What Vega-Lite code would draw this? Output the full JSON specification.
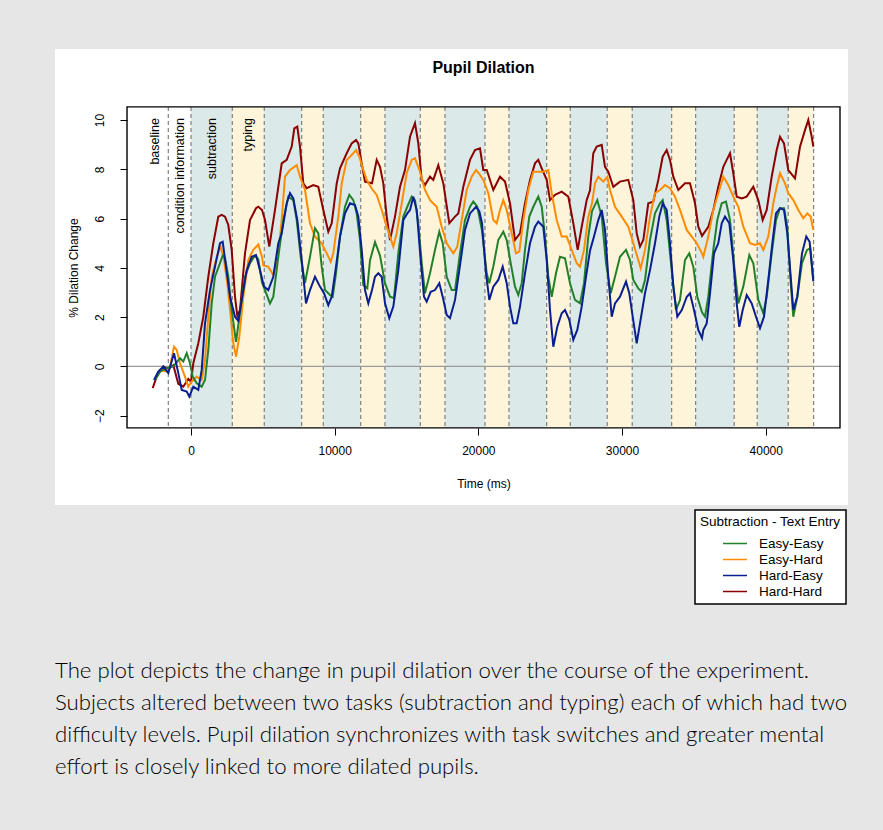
{
  "$schema": "https://vega.github.io/schema/vega-lite/v6.json",
  "width": 793,
  "height": 456,
  "autosize": {"type": "none"},
  "padding": {"left": 55, "top": 49, "right": 35, "bottom": 325},
  "background": "#e6e6e6",
  "view": {"fill": "white", "stroke": null},
  "title": {
    "text": [
      "The plot depicts the change in pupil dilation over the course of the experiment.",
      "Subjects altered between two tasks (subtraction and typing) each of which had two",
      "difficulty levels. Pupil dilation synchronizes with task switches and greater mental",
      "effort is closely linked to more dilated pupils."
    ],
    "orient": "bottom",
    "anchor": "start",
    "frame": "group",
    "offset": 55,
    "font": "Lato",
    "fontSize": 22.2,
    "fontWeight": 300,
    "lineHeight": 32.2,
    "color": "#000000"
  },
  "config": {
    "font": "Liberation Sans",
    "axis": {
      "domain": false,
      "grid": false,
      "tickColor": "black",
      "tickSize": 7,
      "tickWidth": 1,
      "labelColor": "black",
      "labelFont": "Liberation Sans",
      "labelFontSize": 12,
      "titleFont": "Liberation Sans",
      "titleFontSize": 12,
      "titleFontWeight": "normal",
      "titleColor": "black"
    },
    "legend": {"strokeWidth": 1.5}
  },
  "datasets": {
    "bands": [
      {"phase": "subtraction", "start": 0, "end": 2874},
      {"phase": "typing", "start": 2874, "end": 5100},
      {"phase": "subtraction", "start": 5100, "end": 7704},
      {"phase": "typing", "start": 7704, "end": 9207},
      {"phase": "subtraction", "start": 9207, "end": 11810},
      {"phase": "typing", "start": 11810, "end": 13500},
      {"phase": "subtraction", "start": 13500, "end": 15957},
      {"phase": "typing", "start": 15957, "end": 17676},
      {"phase": "subtraction", "start": 17676, "end": 20459},
      {"phase": "typing", "start": 20459, "end": 22129},
      {"phase": "subtraction", "start": 22129, "end": 24753},
      {"phase": "typing", "start": 24753, "end": 26395},
      {"phase": "subtraction", "start": 26395, "end": 28970},
      {"phase": "typing", "start": 28970, "end": 30710},
      {"phase": "subtraction", "start": 30710, "end": 33452},
      {"phase": "typing", "start": 33452, "end": 35122},
      {"phase": "subtraction", "start": 35122, "end": 37808},
      {"phase": "typing", "start": 37808, "end": 39409},
      {"phase": "subtraction", "start": 39409, "end": 41566},
      {"phase": "typing", "start": 41566, "end": 43333}
    ],
    "bounds": [
      {"t": -1580}, {"t": 0}, {"t": 2874}, {"t": 5100}, {"t": 7704}, {"t": 9207}, {"t": 11810}, {"t": 13500},
      {"t": 15957}, {"t": 17676}, {"t": 20459}, {"t": 22129}, {"t": 24753}, {"t": 26395}, {"t": 28970},
      {"t": 30710}, {"t": 33452}, {"t": 35122}, {"t": 37808}, {"t": 39409}, {"t": 41566}, {"t": 43333}
    ],
    "labels": [
      {"label": "baseline", "t": -2506},
      {"label": "condition information", "t": -766},
      {"label": "subtraction", "t": 1440},
      {"label": "typing", "t": 3990}
    ],
    "lines": [
      {"s":"Hard-Hard","t":-2667,"v":-0.88},{"s":"Hard-Hard","t":-2387,"v":-0.41},{"s":"Hard-Hard","t":-1928,"v":0.0},{"s":"Hard-Hard","t":-1580,"v":-0.1},{"s":"Hard-Hard","t":-1232,"v":0.05},{"s":"Hard-Hard","t":-884,"v":-0.7},{"s":"Hard-Hard","t":-536,"v":-0.82},{"s":"Hard-Hard","t":-188,"v":-0.5},{"s":"Hard-Hard","t":0,"v":-0.62},{"s":"Hard-Hard","t":160,"v":0.13},{"s":"Hard-Hard","t":508,"v":0.94},{"s":"Hard-Hard","t":856,"v":2.02},{"s":"Hard-Hard","t":1204,"v":3.64},{"s":"Hard-Hard","t":1552,"v":5.0},{"s":"Hard-Hard","t":1900,"v":6.08},{"s":"Hard-Hard","t":2137,"v":6.15},{"s":"Hard-Hard","t":2366,"v":6.08},{"s":"Hard-Hard","t":2596,"v":5.74},{"s":"Hard-Hard","t":2833,"v":4.73},{"s":"Hard-Hard","t":3062,"v":2.83},{"s":"Hard-Hard","t":3222,"v":2.05},{"s":"Hard-Hard","t":3410,"v":2.29},{"s":"Hard-Hard","t":3758,"v":4.59},{"s":"Hard-Hard","t":4106,"v":5.94},{"s":"Hard-Hard","t":4524,"v":6.42},{"s":"Hard-Hard","t":4684,"v":6.48},{"s":"Hard-Hard","t":4942,"v":6.35},{"s":"Hard-Hard","t":5150,"v":5.94},{"s":"Hard-Hard","t":5450,"v":4.86},{"s":"Hard-Hard","t":5846,"v":6.35},{"s":"Hard-Hard","t":6313,"v":8.24},{"s":"Hard-Hard","t":6661,"v":8.38},{"s":"Hard-Hard","t":7009,"v":8.92},{"s":"Hard-Hard","t":7190,"v":9.66},{"s":"Hard-Hard","t":7398,"v":9.73},{"s":"Hard-Hard","t":7586,"v":8.92},{"s":"Hard-Hard","t":7816,"v":7.43},{"s":"Hard-Hard","t":8053,"v":7.23},{"s":"Hard-Hard","t":8512,"v":7.36},{"s":"Hard-Hard","t":8860,"v":7.29},{"s":"Hard-Hard","t":9208,"v":6.35},{"s":"Hard-Hard","t":9556,"v":5.47},{"s":"Hard-Hard","t":9793,"v":5.81},{"s":"Hard-Hard","t":10141,"v":7.43},{"s":"Hard-Hard","t":10370,"v":8.04},{"s":"Hard-Hard","t":10837,"v":8.65},{"s":"Hard-Hard","t":11185,"v":9.05},{"s":"Hard-Hard","t":11484,"v":9.19},{"s":"Hard-Hard","t":11644,"v":9.05},{"s":"Hard-Hard","t":11881,"v":8.24},{"s":"Hard-Hard","t":12110,"v":7.5},{"s":"Hard-Hard","t":12598,"v":7.43},{"s":"Hard-Hard","t":12925,"v":8.38},{"s":"Hard-Hard","t":13154,"v":8.1},{"s":"Hard-Hard","t":13384,"v":7.43},{"s":"Hard-Hard","t":13621,"v":6.08},{"s":"Hard-Hard","t":13850,"v":5.13},{"s":"Hard-Hard","t":14198,"v":6.08},{"s":"Hard-Hard","t":14546,"v":7.29},{"s":"Hard-Hard","t":14894,"v":7.97},{"s":"Hard-Hard","t":15242,"v":9.32},{"s":"Hard-Hard","t":15590,"v":9.87},{"s":"Hard-Hard","t":15820,"v":9.05},{"s":"Hard-Hard","t":16057,"v":7.57},{"s":"Hard-Hard","t":16286,"v":7.36},{"s":"Hard-Hard","t":16634,"v":7.7},{"s":"Hard-Hard","t":16864,"v":7.57},{"s":"Hard-Hard","t":17212,"v":8.17},{"s":"Hard-Hard","t":17560,"v":7.43},{"s":"Hard-Hard","t":17978,"v":5.81},{"s":"Hard-Hard","t":18374,"v":6.08},{"s":"Hard-Hard","t":18604,"v":6.21},{"s":"Hard-Hard","t":18952,"v":7.29},{"s":"Hard-Hard","t":19418,"v":8.38},{"s":"Hard-Hard","t":19766,"v":8.78},{"s":"Hard-Hard","t":20114,"v":8.85},{"s":"Hard-Hard","t":20344,"v":7.97},{"s":"Hard-Hard","t":20581,"v":7.97},{"s":"Hard-Hard","t":21040,"v":7.16},{"s":"Hard-Hard","t":21506,"v":7.7},{"s":"Hard-Hard","t":21854,"v":7.5},{"s":"Hard-Hard","t":22202,"v":6.62},{"s":"Hard-Hard","t":22550,"v":5.13},{"s":"Hard-Hard","t":22898,"v":5.4},{"s":"Hard-Hard","t":23246,"v":6.62},{"s":"Hard-Hard","t":23594,"v":7.57},{"s":"Hard-Hard","t":23942,"v":8.24},{"s":"Hard-Hard","t":24172,"v":8.38},{"s":"Hard-Hard","t":24409,"v":8.04},{"s":"Hard-Hard","t":24757,"v":7.57},{"s":"Hard-Hard","t":24986,"v":6.75},{"s":"Hard-Hard","t":25334,"v":6.96},{"s":"Hard-Hard","t":25801,"v":7.09},{"s":"Hard-Hard","t":26260,"v":6.89},{"s":"Hard-Hard","t":26608,"v":5.81},{"s":"Hard-Hard","t":26914,"v":4.73},{"s":"Hard-Hard","t":27193,"v":5.67},{"s":"Hard-Hard","t":27541,"v":6.75},{"s":"Hard-Hard","t":27770,"v":7.15},{"s":"Hard-Hard","t":28000,"v":8.65},{"s":"Hard-Hard","t":28237,"v":8.92},{"s":"Hard-Hard","t":28585,"v":8.99},{"s":"Hard-Hard","t":28814,"v":8.1},{"s":"Hard-Hard","t":29044,"v":7.9},{"s":"Hard-Hard","t":29392,"v":7.29},{"s":"Hard-Hard","t":29858,"v":7.5},{"s":"Hard-Hard","t":30436,"v":7.57},{"s":"Hard-Hard","t":30784,"v":6.75},{"s":"Hard-Hard","t":31021,"v":5.4},{"s":"Hard-Hard","t":31250,"v":4.86},{"s":"Hard-Hard","t":31480,"v":5.13},{"s":"Hard-Hard","t":31828,"v":6.62},{"s":"Hard-Hard","t":32176,"v":6.69},{"s":"Hard-Hard","t":32524,"v":7.57},{"s":"Hard-Hard","t":32830,"v":8.51},{"s":"Hard-Hard","t":33108,"v":8.78},{"s":"Hard-Hard","t":33338,"v":8.38},{"s":"Hard-Hard","t":33568,"v":7.7},{"s":"Hard-Hard","t":33916,"v":7.16},{"s":"Hard-Hard","t":34382,"v":7.43},{"s":"Hard-Hard","t":34730,"v":7.43},{"s":"Hard-Hard","t":35078,"v":6.62},{"s":"Hard-Hard","t":35308,"v":5.67},{"s":"Hard-Hard","t":35566,"v":5.3},{"s":"Hard-Hard","t":36004,"v":5.67},{"s":"Hard-Hard","t":36352,"v":6.35},{"s":"Hard-Hard","t":36700,"v":7.29},{"s":"Hard-Hard","t":37048,"v":8.1},{"s":"Hard-Hard","t":37285,"v":8.38},{"s":"Hard-Hard","t":37514,"v":8.65},{"s":"Hard-Hard","t":37744,"v":7.84},{"s":"Hard-Hard","t":37980,"v":6.89},{"s":"Hard-Hard","t":38329,"v":6.82},{"s":"Hard-Hard","t":38677,"v":6.89},{"s":"Hard-Hard","t":39136,"v":7.29},{"s":"Hard-Hard","t":39484,"v":6.75},{"s":"Hard-Hard","t":39790,"v":5.94},{"s":"Hard-Hard","t":40069,"v":6.35},{"s":"Hard-Hard","t":40417,"v":7.7},{"s":"Hard-Hard","t":40765,"v":8.78},{"s":"Hard-Hard","t":40994,"v":9.32},{"s":"Hard-Hard","t":41273,"v":9.05},{"s":"Hard-Hard","t":41572,"v":7.97},{"s":"Hard-Hard","t":42038,"v":7.63},{"s":"Hard-Hard","t":42386,"v":8.92},{"s":"Hard-Hard","t":42734,"v":9.59},{"s":"Hard-Hard","t":42964,"v":10.0},{"s":"Hard-Hard","t":43201,"v":9.32},{"s":"Hard-Hard","t":43312,"v":8.92},

      {"s":"Easy-Hard","t":-2506,"v":-0.48},{"s":"Easy-Hard","t":-2158,"v":-0.14},{"s":"Easy-Hard","t":-1691,"v":-0.21},{"s":"Easy-Hard","t":-1462,"v":0.0},{"s":"Easy-Hard","t":-1183,"v":0.8},{"s":"Easy-Hard","t":-995,"v":0.67},{"s":"Easy-Hard","t":-766,"v":0.13},{"s":"Easy-Hard","t":-418,"v":-0.41},{"s":"Easy-Hard","t":-188,"v":-0.82},{"s":"Easy-Hard","t":49,"v":-0.62},{"s":"Easy-Hard","t":397,"v":-0.41},{"s":"Easy-Hard","t":745,"v":-0.55},{"s":"Easy-Hard","t":974,"v":0.26},{"s":"Easy-Hard","t":1204,"v":2.02},{"s":"Easy-Hard","t":1441,"v":3.64},{"s":"Easy-Hard","t":1789,"v":4.45},{"s":"Easy-Hard","t":2067,"v":4.86},{"s":"Easy-Hard","t":2297,"v":4.32},{"s":"Easy-Hard","t":2526,"v":3.38},{"s":"Easy-Hard","t":2763,"v":2.02},{"s":"Easy-Hard","t":2944,"v":0.94},{"s":"Easy-Hard","t":3132,"v":0.4},{"s":"Easy-Hard","t":3362,"v":1.21},{"s":"Easy-Hard","t":3640,"v":2.83},{"s":"Easy-Hard","t":3988,"v":4.32},{"s":"Easy-Hard","t":4336,"v":4.73},{"s":"Easy-Hard","t":4684,"v":4.95},{"s":"Easy-Hard","t":4942,"v":4.45},{"s":"Easy-Hard","t":5032,"v":4.1},{"s":"Easy-Hard","t":5380,"v":4.05},{"s":"Easy-Hard","t":5728,"v":3.71},{"s":"Easy-Hard","t":6076,"v":4.59},{"s":"Easy-Hard","t":6313,"v":5.94},{"s":"Easy-Hard","t":6542,"v":7.7},{"s":"Easy-Hard","t":6890,"v":7.97},{"s":"Easy-Hard","t":7357,"v":8.17},{"s":"Easy-Hard","t":7586,"v":7.7},{"s":"Easy-Hard","t":7934,"v":7.16},{"s":"Easy-Hard","t":8282,"v":5.81},{"s":"Easy-Hard","t":8630,"v":5.27},{"s":"Easy-Hard","t":9097,"v":5.0},{"s":"Easy-Hard","t":9445,"v":4.59},{"s":"Easy-Hard","t":9723,"v":4.25},{"s":"Easy-Hard","t":9904,"v":4.59},{"s":"Easy-Hard","t":10252,"v":6.08},{"s":"Easy-Hard","t":10490,"v":7.43},{"s":"Easy-Hard","t":10837,"v":8.38},{"s":"Easy-Hard","t":11185,"v":8.58},{"s":"Easy-Hard","t":11484,"v":8.78},{"s":"Easy-Hard","t":11714,"v":8.51},{"s":"Easy-Hard","t":11992,"v":7.97},{"s":"Easy-Hard","t":12229,"v":7.57},{"s":"Easy-Hard","t":12598,"v":7.2},{"s":"Easy-Hard","t":12925,"v":6.96},{"s":"Easy-Hard","t":13273,"v":6.35},{"s":"Easy-Hard","t":13621,"v":5.67},{"s":"Easy-Hard","t":13850,"v":5.27},{"s":"Easy-Hard","t":14080,"v":4.86},{"s":"Easy-Hard","t":14317,"v":5.4},{"s":"Easy-Hard","t":14665,"v":6.62},{"s":"Easy-Hard","t":15013,"v":7.84},{"s":"Easy-Hard","t":15361,"v":8.38},{"s":"Easy-Hard","t":15590,"v":8.45},{"s":"Easy-Hard","t":15938,"v":7.9},{"s":"Easy-Hard","t":16286,"v":7.16},{"s":"Easy-Hard","t":16634,"v":6.75},{"s":"Easy-Hard","t":17101,"v":6.48},{"s":"Easy-Hard","t":17449,"v":5.67},{"s":"Easy-Hard","t":17797,"v":5.0},{"s":"Easy-Hard","t":18256,"v":4.59},{"s":"Easy-Hard","t":18534,"v":4.86},{"s":"Easy-Hard","t":18840,"v":5.94},{"s":"Easy-Hard","t":19188,"v":7.16},{"s":"Easy-Hard","t":19536,"v":7.7},{"s":"Easy-Hard","t":19836,"v":7.97},{"s":"Easy-Hard","t":20114,"v":7.77},{"s":"Easy-Hard","t":20344,"v":7.57},{"s":"Easy-Hard","t":20692,"v":7.03},{"s":"Easy-Hard","t":21040,"v":5.94},{"s":"Easy-Hard","t":21277,"v":5.81},{"s":"Easy-Hard","t":21506,"v":6.35},{"s":"Easy-Hard","t":21736,"v":6.75},{"s":"Easy-Hard","t":21973,"v":6.35},{"s":"Easy-Hard","t":22321,"v":5.4},{"s":"Easy-Hard","t":22620,"v":4.59},{"s":"Easy-Hard","t":22850,"v":4.66},{"s":"Easy-Hard","t":23128,"v":5.94},{"s":"Easy-Hard","t":23476,"v":7.16},{"s":"Easy-Hard","t":23824,"v":7.9},{"s":"Easy-Hard","t":24172,"v":7.9},{"s":"Easy-Hard","t":24520,"v":7.9},{"s":"Easy-Hard","t":24868,"v":7.97},{"s":"Easy-Hard","t":25105,"v":7.03},{"s":"Easy-Hard","t":25453,"v":5.94},{"s":"Easy-Hard","t":25801,"v":5.27},{"s":"Easy-Hard","t":26149,"v":5.27},{"s":"Easy-Hard","t":26497,"v":4.73},{"s":"Easy-Hard","t":26845,"v":4.19},{"s":"Easy-Hard","t":27074,"v":4.05},{"s":"Easy-Hard","t":27353,"v":4.73},{"s":"Easy-Hard","t":27652,"v":6.08},{"s":"Easy-Hard","t":27910,"v":6.62},{"s":"Easy-Hard","t":28118,"v":7.43},{"s":"Easy-Hard","t":28348,"v":7.7},{"s":"Easy-Hard","t":28696,"v":7.5},{"s":"Easy-Hard","t":28974,"v":7.7},{"s":"Easy-Hard","t":29162,"v":7.16},{"s":"Easy-Hard","t":29510,"v":6.48},{"s":"Easy-Hard","t":29976,"v":6.08},{"s":"Easy-Hard","t":30436,"v":5.67},{"s":"Easy-Hard","t":30784,"v":5.0},{"s":"Easy-Hard","t":31132,"v":4.32},{"s":"Easy-Hard","t":31299,"v":3.98},{"s":"Easy-Hard","t":31598,"v":4.73},{"s":"Easy-Hard","t":31946,"v":6.08},{"s":"Easy-Hard","t":32294,"v":7.03},{"s":"Easy-Hard","t":32642,"v":7.16},{"s":"Easy-Hard","t":32990,"v":7.36},{"s":"Easy-Hard","t":33338,"v":7.23},{"s":"Easy-Hard","t":33686,"v":6.89},{"s":"Easy-Hard","t":34034,"v":6.35},{"s":"Easy-Hard","t":34500,"v":5.54},{"s":"Easy-Hard","t":34849,"v":5.27},{"s":"Easy-Hard","t":35197,"v":5.0},{"s":"Easy-Hard","t":35566,"v":4.59},{"s":"Easy-Hard","t":35656,"v":4.45},{"s":"Easy-Hard","t":36004,"v":5.27},{"s":"Easy-Hard","t":36352,"v":6.35},{"s":"Easy-Hard","t":36700,"v":7.03},{"s":"Easy-Hard","t":37048,"v":7.7},{"s":"Easy-Hard","t":37396,"v":7.36},{"s":"Easy-Hard","t":37744,"v":6.89},{"s":"Easy-Hard","t":38092,"v":6.48},{"s":"Easy-Hard","t":38440,"v":5.67},{"s":"Easy-Hard","t":38906,"v":5.0},{"s":"Easy-Hard","t":39254,"v":4.93},{"s":"Easy-Hard","t":39602,"v":5.0},{"s":"Easy-Hard","t":39832,"v":4.73},{"s":"Easy-Hard","t":40180,"v":5.27},{"s":"Easy-Hard","t":40528,"v":6.62},{"s":"Easy-Hard","t":40765,"v":7.29},{"s":"Easy-Hard","t":40994,"v":7.84},{"s":"Easy-Hard","t":41342,"v":7.43},{"s":"Easy-Hard","t":41572,"v":7.03},{"s":"Easy-Hard","t":41920,"v":6.75},{"s":"Easy-Hard","t":42268,"v":6.35},{"s":"Easy-Hard","t":42616,"v":6.01},{"s":"Easy-Hard","t":42894,"v":6.21},{"s":"Easy-Hard","t":43131,"v":6.08},{"s":"Easy-Hard","t":43312,"v":5.54},

      {"s":"Easy-Easy","t":-2506,"v":-0.55},{"s":"Easy-Easy","t":-2158,"v":-0.21},{"s":"Easy-Easy","t":-1691,"v":-0.07},{"s":"Easy-Easy","t":-1232,"v":0.0},{"s":"Easy-Easy","t":-766,"v":0.33},{"s":"Easy-Easy","t":-536,"v":0.2},{"s":"Easy-Easy","t":-299,"v":0.54},{"s":"Easy-Easy","t":-70,"v":0.13},{"s":"Easy-Easy","t":118,"v":-0.41},{"s":"Easy-Easy","t":397,"v":-0.68},{"s":"Easy-Easy","t":745,"v":-0.82},{"s":"Easy-Easy","t":974,"v":-0.55},{"s":"Easy-Easy","t":1204,"v":0.67},{"s":"Easy-Easy","t":1441,"v":2.56},{"s":"Easy-Easy","t":1670,"v":3.64},{"s":"Easy-Easy","t":2018,"v":4.19},{"s":"Easy-Easy","t":2206,"v":4.5},{"s":"Easy-Easy","t":2366,"v":4.4},{"s":"Easy-Easy","t":2596,"v":3.64},{"s":"Easy-Easy","t":2833,"v":2.29},{"s":"Easy-Easy","t":3132,"v":1.0},{"s":"Easy-Easy","t":3410,"v":2.2},{"s":"Easy-Easy","t":3758,"v":3.64},{"s":"Easy-Easy","t":4106,"v":4.19},{"s":"Easy-Easy","t":4454,"v":4.5},{"s":"Easy-Easy","t":4684,"v":4.35},{"s":"Easy-Easy","t":4942,"v":3.4},{"s":"Easy-Easy","t":5150,"v":3.1},{"s":"Easy-Easy","t":5498,"v":2.56},{"s":"Easy-Easy","t":5728,"v":2.83},{"s":"Easy-Easy","t":6076,"v":4.45},{"s":"Easy-Easy","t":6424,"v":5.94},{"s":"Easy-Easy","t":6772,"v":6.89},{"s":"Easy-Easy","t":7120,"v":6.75},{"s":"Easy-Easy","t":7357,"v":5.94},{"s":"Easy-Easy","t":7635,"v":4.45},{"s":"Easy-Easy","t":7934,"v":3.38},{"s":"Easy-Easy","t":8282,"v":4.45},{"s":"Easy-Easy","t":8630,"v":5.61},{"s":"Easy-Easy","t":8860,"v":5.4},{"s":"Easy-Easy","t":9097,"v":4.05},{"s":"Easy-Easy","t":9326,"v":3.1},{"s":"Easy-Easy","t":9674,"v":2.9},{"s":"Easy-Easy","t":9862,"v":2.83},{"s":"Easy-Easy","t":10092,"v":3.78},{"s":"Easy-Easy","t":10370,"v":5.27},{"s":"Easy-Easy","t":10718,"v":6.48},{"s":"Easy-Easy","t":11017,"v":6.96},{"s":"Easy-Easy","t":11296,"v":6.75},{"s":"Easy-Easy","t":11532,"v":6.21},{"s":"Easy-Easy","t":11762,"v":5.13},{"s":"Easy-Easy","t":11992,"v":3.3},{"s":"Easy-Easy","t":12271,"v":3.17},{"s":"Easy-Easy","t":12458,"v":4.3},{"s":"Easy-Easy","t":12806,"v":5.05},{"s":"Easy-Easy","t":13154,"v":4.5},{"s":"Easy-Easy","t":13502,"v":3.38},{"s":"Easy-Easy","t":13850,"v":2.83},{"s":"Easy-Easy","t":14128,"v":2.77},{"s":"Easy-Easy","t":14428,"v":4.59},{"s":"Easy-Easy","t":14776,"v":6.08},{"s":"Easy-Easy","t":15055,"v":6.48},{"s":"Easy-Easy","t":15361,"v":6.89},{"s":"Easy-Easy","t":15590,"v":6.75},{"s":"Easy-Easy","t":15820,"v":5.8},{"s":"Easy-Easy","t":16057,"v":4.2},{"s":"Easy-Easy","t":16286,"v":2.97},{"s":"Easy-Easy","t":16634,"v":3.78},{"s":"Easy-Easy","t":16982,"v":4.73},{"s":"Easy-Easy","t":17281,"v":5.47},{"s":"Easy-Easy","t":17518,"v":5.0},{"s":"Easy-Easy","t":17797,"v":3.64},{"s":"Easy-Easy","t":18145,"v":3.1},{"s":"Easy-Easy","t":18374,"v":3.1},{"s":"Easy-Easy","t":18722,"v":4.59},{"s":"Easy-Easy","t":19070,"v":5.94},{"s":"Easy-Easy","t":19418,"v":6.48},{"s":"Easy-Easy","t":19648,"v":6.69},{"s":"Easy-Easy","t":19927,"v":6.48},{"s":"Easy-Easy","t":20254,"v":5.5},{"s":"Easy-Easy","t":20581,"v":3.78},{"s":"Easy-Easy","t":20762,"v":3.38},{"s":"Easy-Easy","t":21040,"v":4.05},{"s":"Easy-Easy","t":21388,"v":5.13},{"s":"Easy-Easy","t":21736,"v":5.47},{"s":"Easy-Easy","t":21973,"v":5.13},{"s":"Easy-Easy","t":22251,"v":4.19},{"s":"Easy-Easy","t":22550,"v":3.24},{"s":"Easy-Easy","t":22780,"v":2.9},{"s":"Easy-Easy","t":23017,"v":3.38},{"s":"Easy-Easy","t":23246,"v":4.73},{"s":"Easy-Easy","t":23546,"v":6.08},{"s":"Easy-Easy","t":23824,"v":6.48},{"s":"Easy-Easy","t":24172,"v":6.89},{"s":"Easy-Easy","t":24409,"v":6.48},{"s":"Easy-Easy","t":24638,"v":5.27},{"s":"Easy-Easy","t":24868,"v":3.64},{"s":"Easy-Easy","t":25105,"v":2.83},{"s":"Easy-Easy","t":25404,"v":3.78},{"s":"Easy-Easy","t":25682,"v":4.45},{"s":"Easy-Easy","t":26030,"v":4.39},{"s":"Easy-Easy","t":26378,"v":3.38},{"s":"Easy-Easy","t":26726,"v":2.7},{"s":"Easy-Easy","t":27074,"v":2.56},{"s":"Easy-Easy","t":27353,"v":3.38},{"s":"Easy-Easy","t":27652,"v":5.27},{"s":"Easy-Easy","t":27910,"v":6.3},{"s":"Easy-Easy","t":28279,"v":6.75},{"s":"Easy-Easy","t":28585,"v":6.08},{"s":"Easy-Easy","t":28884,"v":4.19},{"s":"Easy-Easy","t":29211,"v":2.97},{"s":"Easy-Easy","t":29510,"v":3.64},{"s":"Easy-Easy","t":29858,"v":4.45},{"s":"Easy-Easy","t":30276,"v":4.73},{"s":"Easy-Easy","t":30554,"v":4.32},{"s":"Easy-Easy","t":30784,"v":3.51},{"s":"Easy-Easy","t":31132,"v":3.17},{"s":"Easy-Easy","t":31369,"v":3.03},{"s":"Easy-Easy","t":31598,"v":3.51},{"s":"Easy-Easy","t":31946,"v":5.13},{"s":"Easy-Easy","t":32294,"v":6.21},{"s":"Easy-Easy","t":32642,"v":6.62},{"s":"Easy-Easy","t":32830,"v":6.75},{"s":"Easy-Easy","t":33108,"v":5.94},{"s":"Easy-Easy","t":33456,"v":3.91},{"s":"Easy-Easy","t":33756,"v":2.29},{"s":"Easy-Easy","t":34034,"v":2.7},{"s":"Easy-Easy","t":34382,"v":4.32},{"s":"Easy-Easy","t":34681,"v":4.59},{"s":"Easy-Easy","t":34960,"v":4.05},{"s":"Easy-Easy","t":35238,"v":2.83},{"s":"Easy-Easy","t":35566,"v":2.2},{"s":"Easy-Easy","t":35774,"v":2.02},{"s":"Easy-Easy","t":36004,"v":2.83},{"s":"Easy-Easy","t":36352,"v":4.73},{"s":"Easy-Easy","t":36630,"v":5.94},{"s":"Easy-Easy","t":36937,"v":6.62},{"s":"Easy-Easy","t":37236,"v":6.69},{"s":"Easy-Easy","t":37514,"v":5.94},{"s":"Easy-Easy","t":37814,"v":4.05},{"s":"Easy-Easy","t":38092,"v":2.56},{"s":"Easy-Easy","t":38440,"v":3.24},{"s":"Easy-Easy","t":38858,"v":4.52},{"s":"Easy-Easy","t":39136,"v":4.19},{"s":"Easy-Easy","t":39484,"v":2.7},{"s":"Easy-Easy","t":39832,"v":2.16},{"s":"Easy-Easy","t":40069,"v":2.83},{"s":"Easy-Easy","t":40417,"v":4.59},{"s":"Easy-Easy","t":40716,"v":5.94},{"s":"Easy-Easy","t":40994,"v":6.42},{"s":"Easy-Easy","t":41273,"v":6.42},{"s":"Easy-Easy","t":41502,"v":5.67},{"s":"Easy-Easy","t":41739,"v":3.38},{"s":"Easy-Easy","t":41920,"v":2.02},{"s":"Easy-Easy","t":42198,"v":2.83},{"s":"Easy-Easy","t":42525,"v":4.19},{"s":"Easy-Easy","t":42873,"v":4.73},{"s":"Easy-Easy","t":43104,"v":4.79},{"s":"Easy-Easy","t":43312,"v":3.55},

      {"s":"Hard-Easy","t":-2575,"v":-0.55},{"s":"Hard-Easy","t":-2276,"v":-0.21},{"s":"Hard-Easy","t":-1928,"v":0.0},{"s":"Hard-Easy","t":-1580,"v":-0.27},{"s":"Hard-Easy","t":-1183,"v":0.54},{"s":"Hard-Easy","t":-884,"v":-0.27},{"s":"Hard-Easy","t":-647,"v":-0.95},{"s":"Hard-Easy","t":-299,"v":-1.02},{"s":"Hard-Easy","t":-118,"v":-1.22},{"s":"Hard-Easy","t":160,"v":-0.82},{"s":"Hard-Easy","t":508,"v":-0.95},{"s":"Hard-Easy","t":745,"v":-0.14},{"s":"Hard-Easy","t":974,"v":1.75},{"s":"Hard-Easy","t":1322,"v":3.1},{"s":"Hard-Easy","t":1670,"v":4.05},{"s":"Hard-Easy","t":2018,"v":5.0},{"s":"Hard-Easy","t":2206,"v":5.06},{"s":"Hard-Easy","t":2436,"v":4.05},{"s":"Hard-Easy","t":2714,"v":2.83},{"s":"Hard-Easy","t":3062,"v":2.02},{"s":"Hard-Easy","t":3292,"v":1.85},{"s":"Hard-Easy","t":3529,"v":2.7},{"s":"Hard-Easy","t":3877,"v":3.91},{"s":"Hard-Easy","t":4225,"v":4.45},{"s":"Hard-Easy","t":4524,"v":4.52},{"s":"Hard-Easy","t":4802,"v":3.9},{"s":"Hard-Easy","t":5080,"v":3.24},{"s":"Hard-Easy","t":5380,"v":3.1},{"s":"Hard-Easy","t":5728,"v":3.64},{"s":"Hard-Easy","t":6076,"v":5.0},{"s":"Hard-Easy","t":6313,"v":5.4},{"s":"Hard-Easy","t":6661,"v":6.62},{"s":"Hard-Easy","t":6890,"v":7.03},{"s":"Hard-Easy","t":7120,"v":6.82},{"s":"Hard-Easy","t":7398,"v":5.94},{"s":"Hard-Easy","t":7705,"v":4.32},{"s":"Hard-Easy","t":8004,"v":2.56},{"s":"Hard-Easy","t":8282,"v":3.1},{"s":"Hard-Easy","t":8630,"v":3.64},{"s":"Hard-Easy","t":8978,"v":3.24},{"s":"Hard-Easy","t":9257,"v":2.97},{"s":"Hard-Easy","t":9556,"v":2.49},{"s":"Hard-Easy","t":9793,"v":2.83},{"s":"Hard-Easy","t":10092,"v":4.05},{"s":"Hard-Easy","t":10370,"v":5.27},{"s":"Hard-Easy","t":10718,"v":6.21},{"s":"Hard-Easy","t":11066,"v":6.62},{"s":"Hard-Easy","t":11414,"v":6.55},{"s":"Hard-Easy","t":11644,"v":6.08},{"s":"Hard-Easy","t":11881,"v":4.73},{"s":"Hard-Easy","t":12110,"v":3.1},{"s":"Hard-Easy","t":12340,"v":2.56},{"s":"Hard-Easy","t":12598,"v":3.1},{"s":"Hard-Easy","t":12806,"v":3.64},{"s":"Hard-Easy","t":13036,"v":3.78},{"s":"Hard-Easy","t":13273,"v":3.64},{"s":"Hard-Easy","t":13502,"v":2.56},{"s":"Hard-Easy","t":13802,"v":1.96},{"s":"Hard-Easy","t":14080,"v":2.43},{"s":"Hard-Easy","t":14428,"v":3.91},{"s":"Hard-Easy","t":14776,"v":5.94},{"s":"Hard-Easy","t":15055,"v":6.21},{"s":"Hard-Easy","t":15242,"v":6.35},{"s":"Hard-Easy","t":15472,"v":6.89},{"s":"Hard-Easy","t":15709,"v":6.35},{"s":"Hard-Easy","t":15987,"v":4.32},{"s":"Hard-Easy","t":16216,"v":2.83},{"s":"Hard-Easy","t":16404,"v":2.63},{"s":"Hard-Easy","t":16683,"v":3.03},{"s":"Hard-Easy","t":16982,"v":3.1},{"s":"Hard-Easy","t":17281,"v":3.38},{"s":"Hard-Easy","t":17518,"v":2.83},{"s":"Hard-Easy","t":17797,"v":2.09},{"s":"Hard-Easy","t":18026,"v":1.96},{"s":"Hard-Easy","t":18374,"v":2.7},{"s":"Hard-Easy","t":18674,"v":3.91},{"s":"Hard-Easy","t":19070,"v":5.54},{"s":"Hard-Easy","t":19418,"v":6.21},{"s":"Hard-Easy","t":19836,"v":6.48},{"s":"Hard-Easy","t":20066,"v":6.3},{"s":"Hard-Easy","t":20254,"v":5.8},{"s":"Hard-Easy","t":20344,"v":5.13},{"s":"Hard-Easy","t":20532,"v":3.78},{"s":"Hard-Easy","t":20762,"v":2.7},{"s":"Hard-Easy","t":21040,"v":3.24},{"s":"Hard-Easy","t":21388,"v":3.51},{"s":"Hard-Easy","t":21694,"v":4.05},{"s":"Hard-Easy","t":21973,"v":3.38},{"s":"Hard-Easy","t":22202,"v":2.43},{"s":"Hard-Easy","t":22432,"v":1.75},{"s":"Hard-Easy","t":22665,"v":1.75},{"s":"Hard-Easy","t":22898,"v":2.43},{"s":"Hard-Easy","t":23246,"v":3.78},{"s":"Hard-Easy","t":23594,"v":5.0},{"s":"Hard-Easy","t":23942,"v":5.67},{"s":"Hard-Easy","t":24172,"v":5.88},{"s":"Hard-Easy","t":24520,"v":5.67},{"s":"Hard-Easy","t":24757,"v":4.32},{"s":"Hard-Easy","t":24986,"v":2.29},{"s":"Hard-Easy","t":25216,"v":0.8},{"s":"Hard-Easy","t":25494,"v":1.61},{"s":"Hard-Easy","t":25801,"v":2.16},{"s":"Hard-Easy","t":26030,"v":2.29},{"s":"Hard-Easy","t":26330,"v":1.89},{"s":"Hard-Easy","t":26608,"v":1.08},{"s":"Hard-Easy","t":26886,"v":1.48},{"s":"Hard-Easy","t":27193,"v":2.43},{"s":"Hard-Easy","t":27492,"v":3.64},{"s":"Hard-Easy","t":27770,"v":4.7},{"s":"Hard-Easy","t":28048,"v":5.27},{"s":"Hard-Easy","t":28348,"v":5.94},{"s":"Hard-Easy","t":28585,"v":6.35},{"s":"Hard-Easy","t":28814,"v":5.54},{"s":"Hard-Easy","t":29044,"v":3.64},{"s":"Hard-Easy","t":29281,"v":2.02},{"s":"Hard-Easy","t":29510,"v":2.56},{"s":"Hard-Easy","t":29858,"v":2.83},{"s":"Hard-Easy","t":30276,"v":3.44},{"s":"Hard-Easy","t":30506,"v":2.97},{"s":"Hard-Easy","t":30742,"v":2.02},{"s":"Hard-Easy","t":31021,"v":0.94},{"s":"Hard-Easy","t":31250,"v":1.75},{"s":"Hard-Easy","t":31598,"v":2.97},{"s":"Hard-Easy","t":31946,"v":3.91},{"s":"Hard-Easy","t":32294,"v":5.0},{"s":"Hard-Easy","t":32594,"v":6.08},{"s":"Hard-Easy","t":32830,"v":6.62},{"s":"Hard-Easy","t":33108,"v":6.35},{"s":"Hard-Easy","t":33338,"v":5.0},{"s":"Hard-Easy","t":33568,"v":3.24},{"s":"Hard-Easy","t":33846,"v":2.02},{"s":"Hard-Easy","t":34159,"v":2.29},{"s":"Hard-Easy","t":34507,"v":2.83},{"s":"Hard-Easy","t":34730,"v":2.97},{"s":"Hard-Easy","t":35009,"v":2.29},{"s":"Hard-Easy","t":35308,"v":1.48},{"s":"Hard-Easy","t":35566,"v":1.15},{"s":"Hard-Easy","t":35656,"v":1.48},{"s":"Hard-Easy","t":35893,"v":1.75},{"s":"Hard-Easy","t":36122,"v":2.97},{"s":"Hard-Easy","t":36401,"v":4.59},{"s":"Hard-Easy","t":36700,"v":5.0},{"s":"Hard-Easy","t":36937,"v":5.81},{"s":"Hard-Easy","t":37166,"v":6.08},{"s":"Hard-Easy","t":37466,"v":5.81},{"s":"Hard-Easy","t":37744,"v":4.32},{"s":"Hard-Easy","t":37980,"v":2.56},{"s":"Hard-Easy","t":38161,"v":1.61},{"s":"Hard-Easy","t":38398,"v":2.29},{"s":"Hard-Easy","t":38677,"v":2.9},{"s":"Hard-Easy","t":39025,"v":2.56},{"s":"Hard-Easy","t":39324,"v":2.02},{"s":"Hard-Easy","t":39602,"v":1.55},{"s":"Hard-Easy","t":39881,"v":2.02},{"s":"Hard-Easy","t":40180,"v":3.51},{"s":"Hard-Easy","t":40486,"v":5.13},{"s":"Hard-Easy","t":40716,"v":6.21},{"s":"Hard-Easy","t":40994,"v":6.42},{"s":"Hard-Easy","t":41273,"v":6.35},{"s":"Hard-Easy","t":41502,"v":5.4},{"s":"Hard-Easy","t":41739,"v":3.64},{"s":"Hard-Easy","t":41920,"v":2.29},{"s":"Hard-Easy","t":42198,"v":2.83},{"s":"Hard-Easy","t":42525,"v":4.59},{"s":"Hard-Easy","t":42825,"v":5.27},{"s":"Hard-Easy","t":43055,"v":5.06},{"s":"Hard-Easy","t":43312,"v":3.45}
    ]
  },
  "layer": [
    {
      "data": {"name": "bands"},
      "mark": {"type": "rect"},
      "encoding": {
        "x": {"field": "start", "type": "quantitative", "scale": {"domain": [-9466, 45727], "nice": false, "zero": false},
          "axis": {"values": [0, 10000, 20000, 30000, 40000], "format": "d", "offset": -77, "title": "Time (ms)", "titleX": 428.5, "titlePadding": 22, "labelPadding": 10}},
        "x2": {"field": "end"},
        "y": {"datum": 10.53, "type": "quantitative", "scale": {"domain": [-5.62, 12.88], "nice": false, "zero": false},
          "axis": {"values": [-2, 0, 2, 4, 6, 8, 10], "offset": -72, "labelAngle": 270, "title": "% Dilation Change", "titleY": 218.5, "titlePadding": 13, "labelPadding": 14}},
        "y2": {"datum": -2.49},
        "fill": {"field": "phase", "type": "nominal", "scale": {"domain": ["subtraction", "typing"], "range": ["#dce9e9", "#fdf4da"]}, "legend": null}
      }
    },
    {
      "data": {"name": "bounds"},
      "mark": {"type": "rule", "color": "#808080", "strokeDash": [4, 3], "strokeWidth": 1.2},
      "encoding": {
        "x": {"field": "t", "type": "quantitative"},
        "y": {"datum": 10.53},
        "y2": {"datum": -2.49}
      }
    },
    {
      "data": {"values": [{}]},
      "mark": {"type": "rule", "color": "#9a9a9a", "strokeWidth": 1.3},
      "encoding": {
        "x": {"datum": -4454},
        "x2": {"datum": 45170},
        "y": {"datum": 0}
      }
    },
    {
      "data": {"name": "lines"},
      "mark": {"type": "line", "strokeWidth": 2, "clip": false},
      "encoding": {
        "x": {"field": "t", "type": "quantitative"},
        "y": {"field": "v", "type": "quantitative"},
        "color": {"field": "s", "type": "nominal",
          "scale": {"domain": ["Easy-Easy", "Easy-Hard", "Hard-Easy", "Hard-Hard"], "range": ["#22802a", "#ff8c00", "#0a1f8f", "#8b0000"]},
          "legend": {"title": "Subtraction - Text Entry", "orient": "none", "legendX": 640, "legendY": 461,
            "fillColor": "white", "strokeColor": "black", "padding": 5,
            "titleFontSize": 13.5, "titleFontWeight": "normal", "titleColor": "black", "titleFont": "Liberation Sans", "titlePadding": 8,
            "labelFontSize": 13.5, "labelColor": "black", "labelFont": "Liberation Sans", "labelOffset": 11,
            "symbolType": "stroke", "symbolSize": 576, "symbolStrokeWidth": 1.6, "symbolOffset": 22,
            "clipHeight": 14, "rowPadding": 2}
        }
      }
    },
    {
      "data": {"name": "labels"},
      "mark": {"type": "text", "angle": 270, "align": "right", "baseline": "middle", "fontSize": 12.5, "font": "Liberation Sans", "color": "black"},
      "encoding": {
        "x": {"field": "t", "type": "quantitative"},
        "y": {"datum": 10.08},
        "text": {"field": "label"}
      }
    },
    {
      "data": {"values": [{"title": "Pupil Dilation"}]},
      "mark": {"type": "text", "fontSize": 16, "fontWeight": "bold", "font": "Liberation Sans", "color": "black", "baseline": "middle"},
      "encoding": {
        "x": {"datum": 20358},
        "y": {"datum": 12.11},
        "text": {"field": "title"}
      }
    },
    {
      "data": {"values": [{}]},
      "mark": {"type": "rect", "fill": null, "fillOpacity": 0, "stroke": "black", "strokeWidth": 1.4},
      "encoding": {
        "x": {"datum": -4454},
        "x2": {"datum": 45170},
        "y": {"datum": 10.53},
        "y2": {"datum": -2.49}
      }
    }
  ]
}
